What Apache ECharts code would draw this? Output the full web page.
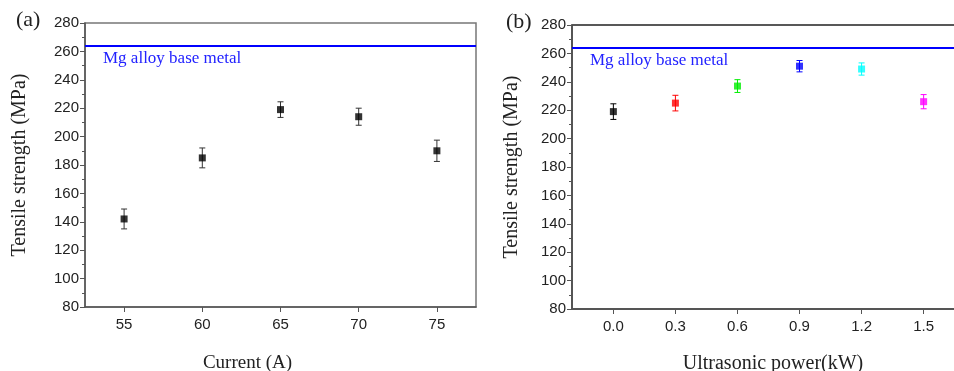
<!DOCTYPE html>
<html>
<head>
<meta charset="utf-8">
<script src="https://cdn.jsdelivr.net/npm/echarts@6/dist/echarts.min.js"></script>
<style>
  html, body { margin: 0; padding: 0; background: #fff; }
  #chart { width: 954px; height: 371px; }
</style>
</head>
<body>
<div id="chart"></div>
<script>
// panel (a): current vs tensile strength
const currentX = [55, 60, 65, 70, 75];
const currentVals = [142, 185, 219, 214, 190];
const currentErr = [7, 7, 5.5, 6, 7.5];

// panel (b): ultrasonic power vs tensile strength
const powerX = [0.0, 0.3, 0.6, 0.9, 1.2, 1.5];
const powerVals = [219, 225, 237, 251, 249, 226];
const powerErr = [5.5, 5.5, 4.5, 4, 4.3, 5];
const powerColors = ["#000000", "#ff0000", "#00ee00", "#0000ff", "#00ffff", "#ff00ff"];

const baseMetal = 264;

const serif = "Liberation Serif";
const sans = "Liberation Sans";

const chart = echarts.init(document.getElementById("chart"));

function errBars(gi, xs, ys, es, colors) {
  return {
    type: "custom", xAxisIndex: gi, yAxisIndex: gi, z: 3, silent: true,
    data: xs.map((x, i) => [x, ys[i] - es[i], ys[i] + es[i], i]),
    renderItem: (params, api) => {
      const lo = api.coord([api.value(0), api.value(1)]);
      const hi = api.coord([api.value(0), api.value(2)]);
      const c = colors[api.value(3)];
      const w = 3;
      const st = { stroke: c, lineWidth: 1 };
      return {
        type: "group",
        children: [
          { type: "line", shape: { x1: lo[0], y1: lo[1], x2: hi[0], y2: hi[1] }, style: st },
          { type: "line", shape: { x1: lo[0] - w, y1: lo[1], x2: lo[0] + w, y2: lo[1] }, style: st },
          { type: "line", shape: { x1: hi[0] - w, y1: hi[1], x2: hi[0] + w, y2: hi[1] }, style: st },
        ],
      };
    },
  };
}

function baseLine() {
  return {
    silent: true, symbol: "none",
    lineStyle: { color: "#0000ff", width: 2, type: "solid" },
    label: {
      show: true, position: "insideStartBottom", formatter: "Mg alloy base metal",
      color: "#2222ff", fontFamily: serif, fontSize: 17, distance: [18, 4],
    },
    data: [{ yAxis: baseMetal }],
  };
}

const axisCol = "#555";
function yAxisOf(gi, gap) {
  return {
    type: "value", gridIndex: gi, min: 80, max: 280, interval: 20,
    name: "Tensile strength (MPa)", nameLocation: "middle", nameGap: gap,
    nameTextStyle: { fontFamily: serif, fontSize: 20, color: "#222" },
    axisLine: { show: true, onZero: false, lineStyle: { color: axisCol, width: 1.5 } },
    axisTick: { show: true, inside: false, length: 5, lineStyle: { color: axisCol } },
    minorTick: { show: true, splitNumber: 2, length: 3, lineStyle: { color: axisCol } },
    axisLabel: { fontFamily: sans, fontSize: 15, color: "#222", margin: 6 },
    splitLine: { show: false },
  };
}

chart.setOption({
  animation: false,
  title: [
    { text: "(a)", left: 11, top: 4, textStyle: { fontFamily: serif, fontSize: 22, fontWeight: "normal", color: "#222" } },
    { text: "(b)", left: 501, top: 6, textStyle: { fontFamily: serif, fontSize: 22, fontWeight: "normal", color: "#222" } },
  ],
  grid: [
    { left: 85, top: 23, width: 391, height: 284, outerBoundsMode: "none", show: true, borderColor: "#777", borderWidth: 1.5, backgroundColor: "transparent" },
    { left: 572, top: 25, width: 393, height: 284, outerBoundsMode: "none", show: true, borderColor: "#222", borderWidth: 1.5, backgroundColor: "transparent" },
  ],
  xAxis: [
    {
      type: "value", gridIndex: 0, min: 52.5, max: 77.5,
      name: "Current (A)", nameLocation: "middle", nameGap: 47,
      nameTextStyle: { fontFamily: serif, fontSize: 19, color: "#222", padding: [0, 66, 0, 0] },
      axisLine: { show: true, onZero: false, lineStyle: { color: axisCol, width: 1.5 } },
      axisTick: { show: true, length: 5, customValues: currentX, lineStyle: { color: axisCol } },
      axisLabel: { fontFamily: sans, fontSize: 15, color: "#222", margin: 10, customValues: currentX },
      splitLine: { show: false },
    },
    {
      type: "value", gridIndex: 1, min: -0.2, max: 1.7,
      name: "Ultrasonic power(kW)", nameLocation: "middle", nameGap: 45,
      nameTextStyle: { fontFamily: serif, fontSize: 20, color: "#222", padding: [0, 0, 0, 9] },
      axisLine: { show: true, onZero: false, lineStyle: { color: axisCol, width: 1.5 } },
      axisTick: { show: true, length: 5, customValues: powerX, lineStyle: { color: axisCol } },
      axisLabel: {
        fontFamily: sans, fontSize: 15, color: "#222", margin: 10, customValues: powerX,
        formatter: (v) => v.toFixed(1),
      },
      splitLine: { show: false },
    },
  ],
  yAxis: [yAxisOf(0, 55), yAxisOf(1, 50)],
  series: [
    errBars(0, currentX, currentVals, currentErr, currentX.map(() => "#333")),
    {
      type: "scatter", xAxisIndex: 0, yAxisIndex: 0, z: 4,
      symbol: "rect", symbolSize: 7, itemStyle: { color: "#000" },
      data: currentX.map((x, i) => [x, currentVals[i]]),
      markLine: baseLine(),
    },
    errBars(1, powerX, powerVals, powerErr, powerColors),
    {
      type: "scatter", xAxisIndex: 1, yAxisIndex: 1, z: 4,
      symbol: "rect", symbolSize: 7,
      data: powerX.map((x, i) => ({ value: [x, powerVals[i]], itemStyle: { color: powerColors[i] } })),
      markLine: baseLine(),
    },
  ],
});
</script>
</body>
</html>
